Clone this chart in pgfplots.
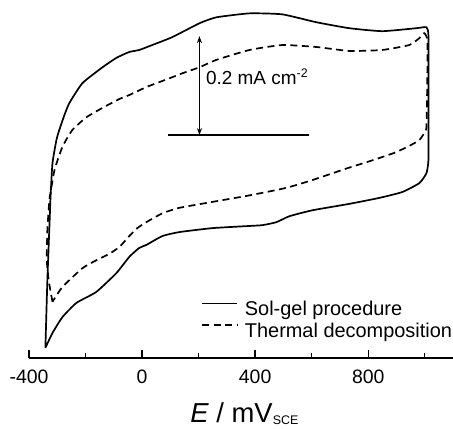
\documentclass[border=0pt]{standalone}
\usepackage{fontspec}
\setmainfont{Liberation Sans}
\usepackage{pgfplots}
\pgfplotsset{compat=1.18}
\usetikzlibrary{arrows.meta}

\begin{document}
\begin{tikzpicture}[x=1bp,y=1bp]
\useasboundingbox (-29,-70) rectangle (424,358);
\begin{axis}[
  scale only axis, width=424bp, height=358bp,
  at={(0,0)}, anchor=south west,
  xmin=-400, xmax=1100, ymin=-0.4505, ymax=0.273,
  axis x line=bottom, axis y line=none, ytick=\empty,
  x axis line style={-, line width=1.4bp},
  xtick={-400,0,400,800}, xticklabels={-400,0,400,800},
  minor xtick={-200,200,600,1000},
  xtick align=inside,
  major tick length=8bp, minor tick length=5bp,
  every tick/.style={black, line width=1.4bp},
  xticklabel style={font=\fontsize{19.5}{23}\selectfont, anchor=base, inner sep=0pt, yshift=-25bp},
  xlabel={\fontsize{27.5}{30}\selectfont\textit{E} / mV\raisebox{-2bp}{\fontsize{12.5}{14}\selectfont SCE}},
  xlabel style={at={(axis description cs:0.380,0)}, anchor=base west, inner sep=0pt, yshift=-64bp},
  clip=false,
  legend style={draw=none, fill=none, inner sep=0pt, row sep=5.5bp, column sep=7bp,
    at={(axis description cs:0.4057,0.053)}, anchor=south west,
    font=\fontsize{20}{23}\selectfont,
    nodes={inner sep=0pt}},
  legend cell align=left,
  legend image code/.code={\draw[#1] (0bp,6bp) -- (35bp,6bp);},
]
% sol-gel electrode
\addplot[black, line width=1.7bp, smooth, tension=0.3] coordinates {
(-342,-0.430) (-335,-0.293) (-326,-0.158) (-324,-0.127) (-317,-0.057) (-303,-0.010)
(-293,0.010) (-275,0.040) (-257,0.065) (-211,0.105) (-140,0.137) (-91,0.156)
(-45,0.168) (-10,0.172) (36,0.182) (107,0.198) (203,0.226) (263,0.238) (380,0.246)
(496,0.244) (617,0.228) (733,0.216) (850,0.210) (970,0.216) (1006,0.218) (1013,0.202)
(1013,0.111) (1013,0.010) (1013,-0.051) (1006,-0.077) (981,-0.097) (921,-0.115)
(839,-0.127) (733,-0.139) (602,-0.152) (521,-0.164) (475,-0.176) (426,-0.182)
(369,-0.184) (249,-0.188) (132,-0.196) (72,-0.204) (15,-0.222) (-10,-0.228)
(-45,-0.246) (-91,-0.279) (-162,-0.317) (-232,-0.339) (-282,-0.368) (-317,-0.400)
(-342,-0.430)};
\addlegendentry{Sol-gel procedure}
% thermally prepared electrode
\addplot[black, line width=1.7bp, dash pattern=on 7bp off 4.5bp, smooth, tension=0.3] coordinates {
(-317,-0.337) (-330,-0.295) (-337,-0.253) (-335,-0.192) (-328,-0.131) (-324,-0.117)
(-310,-0.071) (-282,-0.024) (-247,0.010) (-197,0.036) (-140,0.055) (-80,0.073)
(-45,0.081) (15,0.097) (61,0.107) (107,0.117) (143,0.125) (203,0.137) (263,0.152)
(380,0.172) (496,0.182) (617,0.178) (733,0.170) (850,0.172) (945,0.182) (981,0.196)
(998,0.206) (1009,0.192) (1009,0.111) (1006,0.016) (998,0.004) (981,-0.010)
(945,-0.022) (892,-0.036) (804,-0.053) (726,-0.067) (602,-0.091) (521,-0.105)
(475,-0.111) (369,-0.123) (249,-0.135) (132,-0.147) (72,-0.158) (15,-0.176)
(-17,-0.188) (-45,-0.204) (-80,-0.226) (-116,-0.240) (-162,-0.253) (-211,-0.269)
(-282,-0.307) (-317,-0.337)};
\addlegendentry{Thermal decomposition}
% current scale bar
\draw[line width=1.4bp] (axis cs:90,0) -- (axis cs:590,0);
\draw[line width=1.3bp, {Stealth[length=7bp,width=5bp]}-{Stealth[length=7bp,width=5bp]}]
  (axis cs:203,0) -- (axis cs:203,0.2);
\node[anchor=base west, inner sep=0pt, font=\fontsize{19}{22}\selectfont]
  at (axis cs:226,0.103) {0.2 mA cm\raisebox{7bp}{\fontsize{12.5}{13}\selectfont -2}};
\end{axis}
\end{tikzpicture}
\end{document}
